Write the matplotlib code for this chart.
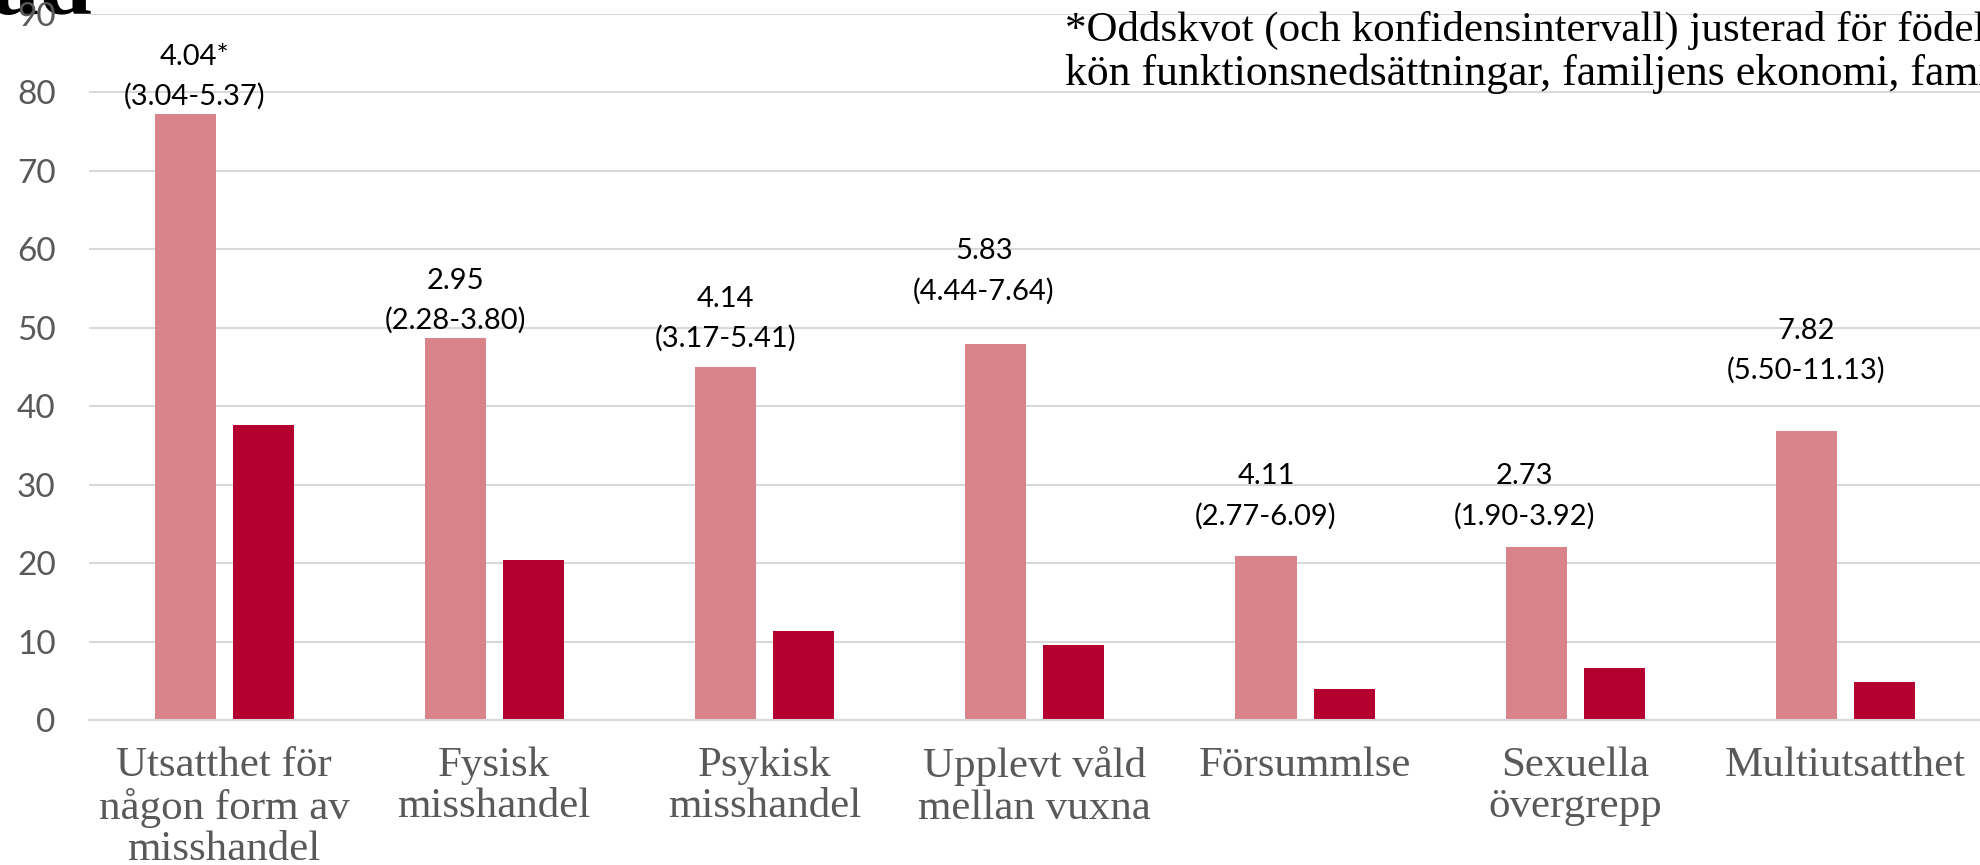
import numpy as np
import matplotlib
matplotlib.use('Agg')
import matplotlib.pyplot as plt

# data
categories = ['Utsatthet för\nnågon form av\nmisshandel', 'Fysisk\nmisshandel', 'Psykisk\nmisshandel',
              'Upplevt våld\nmellan vuxna', 'Försummlse', 'Sexuella\növergrepp', 'Multiutsatthet']
light_vals = [77.3, 48.7, 45.0, 47.9, 20.9, 22.0, 36.8]
dark_vals = [37.6, 20.4, 11.3, 9.6, 4.0, 6.6, 4.8]
odds = ['4.04*', '2.95', '4.14', '5.83', '4.11', '2.73', '7.82']
ci = ['(3.04-5.37)', '(2.28-3.80)', '(3.17-5.41)', '(4.44-7.64)', '(2.77-6.09)', '(1.90-3.92)', '(5.50-11.13)']
yticks = [0, 10, 20, 30, 40, 50, 60, 70, 80, 90]

# where the odds labels sit (middle of the two lines, in y units) and small x shifts
label_mid = [82.0, 53.45, 51.15, 57.25, 28.5, 28.5, 47.1]
label_dx = [0.035, 0.0, 0.0, -0.044, 0.0, -0.042, 0.0]

light_col = '#D9838A'
dark_col = '#B4002F'
grey = '#595959'

fig = plt.figure(figsize=(19.8, 8.65), dpi=100)
ax = fig.add_axes([89/1980, 145/865, 1 - 89/1980, 706/865])
ax.patch.set_alpha(0)

x = np.arange(len(categories))
w = 0.226
ax.bar(x - 0.143, light_vals, w, color=light_col, zorder=2)
ax.bar(x + 0.146, dark_vals, w, color=dark_col, zorder=2)

for i in range(len(categories)):
    ax.text(x[i] - 0.143 + label_dx[i], label_mid[i] + 2.55, odds[i], ha='center', va='center',
            fontsize=21, family='Lato', color='black')
    ax.text(x[i] - 0.143 + label_dx[i], label_mid[i] - 2.55, ci[i], ha='center', va='center',
            fontsize=21, family='Lato', color='black')

ax.set_xlim(-0.5, 6.5)
ax.set_ylim(0, 90)
ax.set_yticks(yticks)
ax.set_xticks(x)
ax.set_xticklabels(categories, family='Liberation Serif', fontsize=31, color=grey, linespacing=1.1)
for lab in ax.get_yticklabels():
    lab.set_family('Lato')
    lab.set_fontsize(24)
    lab.set_color(grey)
ax.tick_params(axis='both', length=0)
ax.tick_params(axis='y', pad=24)
ax.tick_params(axis='x', pad=19)

ax.grid(axis='y', color='#D9D9D9', linewidth=1.5, zorder=0)
ax.set_axisbelow(True)
for s in ['top', 'right', 'left']:
    ax.spines[s].set_visible(False)
ax.spines['bottom'].set_color('#D9D9D9')
ax.spines['bottom'].set_linewidth(1.5)

# note in the top right corner (runs off the edge like the original)
fig.text(1065/1980, 1 - 30/865, '*Oddskvot (och konfidensintervall) justerad för födelseland,',
         family='Liberation Serif', fontsize=31, va='center', ha='left')
fig.text(1065/1980, 1 - 74/865, 'kön funktionsnedsättningar, familjens ekonomi, familjestruktur',
         family='Liberation Serif', fontsize=31.5, va='center', ha='left')

# cut off title piece at the top left
fig.text(-8/1980, 1 - 14/865, 'ad', family='Liberation Serif', weight='bold', fontsize=68,
         va='baseline', ha='left', zorder=-1)

fig.savefig('out.png', dpi=100)
